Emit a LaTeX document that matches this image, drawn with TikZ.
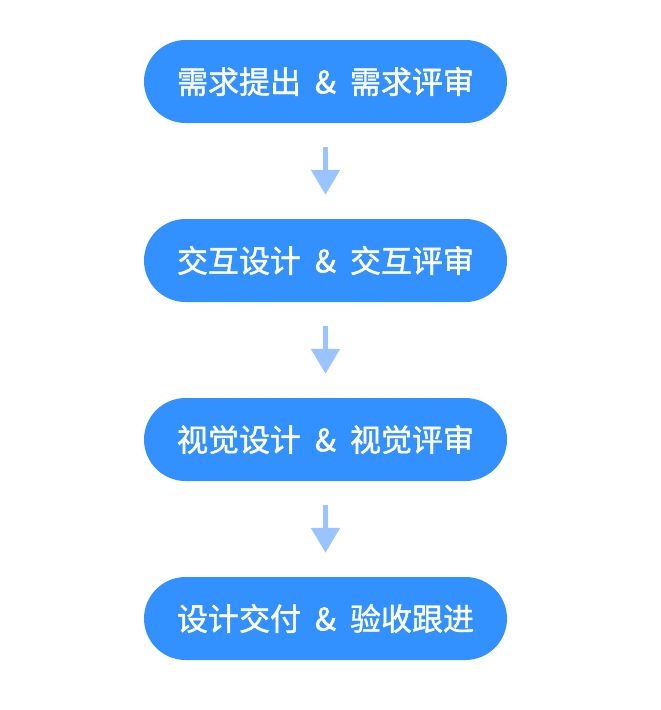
\documentclass[tikz,border=0pt]{standalone}
\usepackage{fontspec}
\newfontfamily\cjk[FakeBold=1.4]{Noto Sans CJK SC}
\usetikzlibrary{arrows.meta}
\definecolor{stageblue}{HTML}{3390FF}
\definecolor{flowblue}{HTML}{99C4FF}
\newcommand{\amp}{\hspace{0.45em}\&\hspace{0.45em}}
\tikzset{
  stagebox/.style={fill=stageblue, draw=none, rounded corners=41.5pt,
    minimum width=363pt, minimum height=83pt, inner sep=0pt,
    text=white, font=\cjk\fontsize{31pt}{31pt}\selectfont},
  flowarrow/.style={draw=flowblue, line width=5pt,
    -{Triangle[width=28pt,length=25pt,fill=flowblue]}}
}
\begin{document}
\begin{tikzpicture}
  \useasboundingbox (0,0) rectangle (661pt,-710pt);
  \node[stagebox] (s1) at (325.5pt,-81.5pt)  {需求提出\amp 需求评审};
  \node[stagebox] (s2) at (325.5pt,-260.5pt) {交互设计\amp 交互评审};
  \node[stagebox] (s3) at (325.5pt,-439.5pt) {视觉设计\amp 视觉评审};
  \node[stagebox] (s4) at (325.5pt,-618.5pt) {设计交付\amp 验收跟进};
  \draw[flowarrow] ([yshift=-24pt]s1.south) -- ([yshift=24pt]s2.north);
  \draw[flowarrow] ([yshift=-24pt]s2.south) -- ([yshift=24pt]s3.north);
  \draw[flowarrow] ([yshift=-24pt]s3.south) -- ([yshift=24pt]s4.north);
\end{tikzpicture}
\end{document}
